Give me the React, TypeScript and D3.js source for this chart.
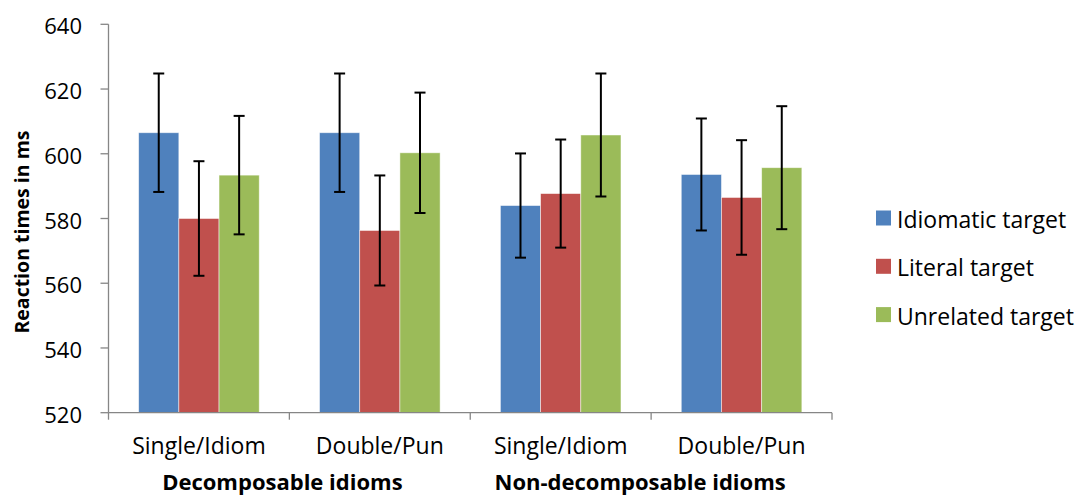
import React from "react";
import * as d3 from "d3";

const categories = ["Single/Idiom", "Double/Pun", "Single/Idiom ", "Double/Pun "];
const categoryLabels = ["Single/Idiom", "Double/Pun", "Single/Idiom", "Double/Pun"];
const groupLabels = ["Decomposable idioms", "Non-decomposable idioms"];
const seriesNames = ["Idiomatic target", "Literal target", "Unrelated target"];
const seriesColors = ["#4F81BD", "#C0504D", "#9BBB59"];

const idiomatic = [606.5, 606.5, 584.0, 593.6];
const idiomaticErr = [18.3, 18.3, 16.1, 17.3];
const literal = [580.0, 576.3, 587.7, 586.5];
const literalErr = [17.7, 17.0, 16.7, 17.7];
const unrelated = [593.4, 600.3, 605.8, 595.7];
const unrelatedErr = [18.3, 18.6, 19.0, 19.0];

const yTicks = [520, 540, 560, 580, 600, 620, 640];

const W = 1088;
const H = 501;
const FONT = "'Open Sans', Calibri, sans-serif";

export default function App() {
  const values = [idiomatic, literal, unrelated];
  const errs = [idiomaticErr, literalErr, unrelatedErr];

  const plotLeft = 108.5;
  const plotRight = 832;
  const plotTop = 24.3;
  const plotBottom = 412.7;

  const y = d3.scaleLinear().domain([520, 640]).range([plotBottom, plotTop]);
  const x0 = d3.scaleBand<string>().domain(categories).range([plotLeft, plotRight]).padding(0);
  const bw = x0.bandwidth();
  const x1 = d3.scaleBand<string>().domain(seriesNames).range([bw / 6, (bw * 5) / 6]).padding(0);
  const barW = x1.bandwidth();

  const boundaries = [plotLeft, ...categories.map((c) => (x0(c) as number) + bw)];
  const axisColor = "#868686";

  const groupCenters = [
    (x0(categories[0]) as number) + bw - 7,
    (x0(categories[2]) as number) + bw - 11,
  ];

  return (
    <svg
      width={W}
      height={H}
      style={{ position: "absolute", left: 0, top: 0, background: "#fff" }}
      fontFamily={FONT}
    >
      {/* bars */}
      {seriesNames.map((s, si) =>
        categories.map((c, ci) => {
          const v = values[si][ci];
          const bx = (x0(c) as number) + (x1(s) as number);
          return (
            <rect
              key={`${s}-${ci}`}
              x={bx}
              y={y(v)}
              width={barW}
              height={plotBottom - y(v)}
              fill={seriesColors[si]}
              stroke="rgba(255,255,255,0.6)"
              strokeWidth={0.8}
            />
          );
        })
      )}

      {/* axes */}
      <line x1={plotLeft} x2={plotLeft} y1={plotTop} y2={plotBottom} stroke={axisColor} strokeWidth={1.3} />
      {yTicks.map((t) => (
        <g key={t}>
          <line x1={plotLeft - 8} x2={plotLeft} y1={y(t)} y2={y(t)} stroke={axisColor} strokeWidth={1.3} />
          <text
            x={82}
            y={y(t) + 1}
            textAnchor="end"
            dominantBaseline="central"
            fontSize={22}
            fill="#000"
          >
            {t}
          </text>
        </g>
      ))}
      <line x1={plotLeft} x2={plotRight} y1={plotBottom} y2={plotBottom} stroke={axisColor} strokeWidth={1.3} />
      {boundaries.map((b, i) => (
        <line key={i} x1={b} x2={b} y1={plotBottom} y2={plotBottom + 7} stroke={axisColor} strokeWidth={1.3} />
      ))}

      {/* error bars */}
      {seriesNames.map((s, si) =>
        categories.map((c, ci) => {
          const v = values[si][ci];
          const e = errs[si][ci];
          const cx = (x0(c) as number) + (x1(s) as number) + barW / 2;
          const yt = y(v + e);
          const yb = y(v - e);
          return (
            <g key={`e-${s}-${ci}`} stroke="#000" strokeWidth={2}>
              <line x1={cx} x2={cx} y1={yt} y2={yb} />
              <line x1={cx - 5.5} x2={cx + 5.5} y1={yt} y2={yt} />
              <line x1={cx - 5.5} x2={cx + 5.5} y1={yb} y2={yb} />
            </g>
          );
        })
      )}

      {/* category labels */}
      {categories.map((c, ci) => (
        <text
          key={c}
          x={(x0(c) as number) + bw / 2}
          y={454}
          textAnchor="middle"
          fontSize={23}
          fill="#000"
        >
          {categoryLabels[ci]}
        </text>
      ))}
      {groupLabels.map((g, gi) => (
        <text
          key={g}
          x={groupCenters[gi]}
          y={490}
          textAnchor="middle"
          fontSize={22}
          fontWeight="bold"
          fill="#000"
        >
          {g}
        </text>
      ))}

      {/* y title */}
      <text
        transform={`translate(29, 232) rotate(-90)`}
        textAnchor="middle"
        fontSize={19.5}
        fontWeight="bold"
        fill="#000"
      >
        Reaction times in ms
      </text>

      {/* legend */}
      {seriesNames.map((s, si) => {
        const cy = 218 + si * 48.3;
        return (
          <g key={s}>
            <rect x={876} y={cy - 7.5} width={15} height={15} fill={seriesColors[si]} />
            <text x={897} y={cy + 1} dominantBaseline="central" fontSize={23} fill="#000">
              {s}
            </text>
          </g>
        );
      })}
    </svg>
  );
}
